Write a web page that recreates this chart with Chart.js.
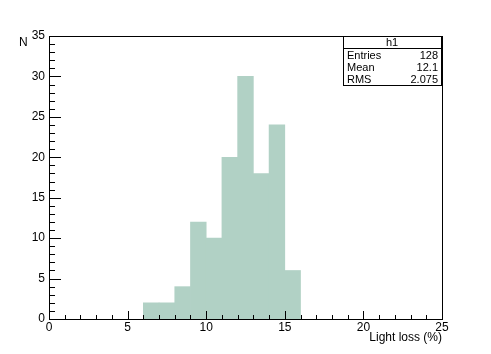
<!DOCTYPE html>
<html>
<head>
<meta charset="utf-8">
<script src="https://cdn.jsdelivr.net/npm/chart.js@4"></script>
<style>
  html, body { margin: 0; padding: 0; background: #fff; }
  #wrap { width: 491px; height: 354px; }
</style>
</head>
<body>
<div id="wrap"><canvas id="hist" width="491" height="354"></canvas></div>
<script>
// histogram h1: bins of width 1
const binLow = [6, 7, 8, 9, 10, 11, 12, 13, 14, 15];
const counts = [2, 2, 4, 12, 10, 20, 30, 18, 24, 6];
const statNames = ["Entries", "Mean", "RMS"];
const statValues = ["128", "12.1", "2.075"];
const xRange = [0, 25];
const yRange = [0, 35];

const font = "Liberation Sans, Arial, Helvetica, sans-serif";

const rootAxes = {
    id: "rootAxes",
    afterDraw(chart) {
        const ctx = chart.ctx;
        const a = chart.chartArea;
        const xs = chart.scales.x;
        const ys = chart.scales.y;
        ctx.save();
        ctx.strokeStyle = "#000";
        ctx.lineWidth = 1;

        // frame
        ctx.strokeRect(Math.round(a.left) + 0.5, Math.round(a.top) + 0.5,
            Math.round(a.right - a.left), Math.round(a.bottom - a.top));

        // x ticks (inward, upward)
        ctx.beginPath();
        for (let v = xRange[0]; v <= xRange[1]; v++) {
            const px = Math.round(xs.getPixelForValue(v)) + 0.5;
            const len = v % 5 === 0 ? 8 : 4;
            ctx.moveTo(px, a.bottom);
            ctx.lineTo(px, a.bottom - len);
        }
        // y ticks (inward, rightward)
        for (let v = yRange[0]; v <= yRange[1]; v++) {
            const py = Math.round(ys.getPixelForValue(v)) + 0.5;
            const len = v % 5 === 0 ? 12 : 6;
            ctx.moveTo(a.left, py);
            ctx.lineTo(a.left + len, py);
        }
        ctx.stroke();

        // axis titles
        ctx.fillStyle = "#000";
        ctx.font = "12px " + font;
        ctx.textBaseline = "middle";
        ctx.textAlign = "left";
        ctx.fillText("N", 19, 43);
        ctx.textAlign = "right";
        ctx.fillText("Light loss (%)", a.right, 338);

        // stats box
        const bx = 343, by = 36, bw = 98, bh = 49;
        ctx.fillStyle = "#fff";
        ctx.fillRect(bx, by, bw, bh);
        ctx.strokeRect(bx + 0.5, by + 0.5, bw, bh);
        ctx.beginPath();
        ctx.moveTo(bx, by + 12.5);
        ctx.lineTo(bx + bw, by + 12.5);
        ctx.stroke();
        ctx.fillStyle = "#000";
        ctx.font = "11px " + font;
        ctx.textAlign = "center";
        ctx.fillText("h1", bx + bw / 2, by + 7);
        statNames.forEach((name, i) => {
            const ty = by + 20 + i * 12;
            ctx.textAlign = "left";
            ctx.fillText(name, bx + 4, ty);
            ctx.textAlign = "right";
            ctx.fillText(statValues[i], bx + bw - 3, ty);
        });
        ctx.restore();
    }
};

const ctx = document.getElementById("hist").getContext("2d");
const chart = new Chart(ctx, {
    type: "bar",
    data: {
        datasets: [{
            label: "h1",
            data: binLow.map((lo, i) => ({ x: lo + 0.5, y: counts[i] })),
            backgroundColor: "#b1d1c5",
            borderColor: "#9fcab9",
            borderWidth: 0,
            barPercentage: 1,
            categoryPercentage: 1
        }]
    },
    options: {
        responsive: false,
        animation: false,
        layout: { padding: { left: 0, top: 36, right: 49, bottom: 0 } },
        plugins: {
            legend: { display: false },
            tooltip: { enabled: false }
        },
        scales: {
            x: {
                type: "linear",
                offset: false,
                min: xRange[0],
                max: xRange[1],
                grid: { display: false, drawTicks: false },
                border: { display: false },
                afterFit(scale) { scale.height = 35; },
                ticks: {
                    stepSize: 5,
                    padding: 1,
                    maxRotation: 0,
                    color: "#000",
                    font: { family: font, size: 12 }
                }
            },
            y: {
                min: yRange[0],
                max: yRange[1],
                grid: { display: false, drawTicks: false },
                border: { display: false },
                afterFit(scale) { scale.width = 49; },
                ticks: {
                    stepSize: 5,
                    padding: 4,
                    color: "#000",
                    font: { family: font, size: 12 }
                }
            }
        }
    },
    plugins: [rootAxes]
});
</script>
</body>
</html>
